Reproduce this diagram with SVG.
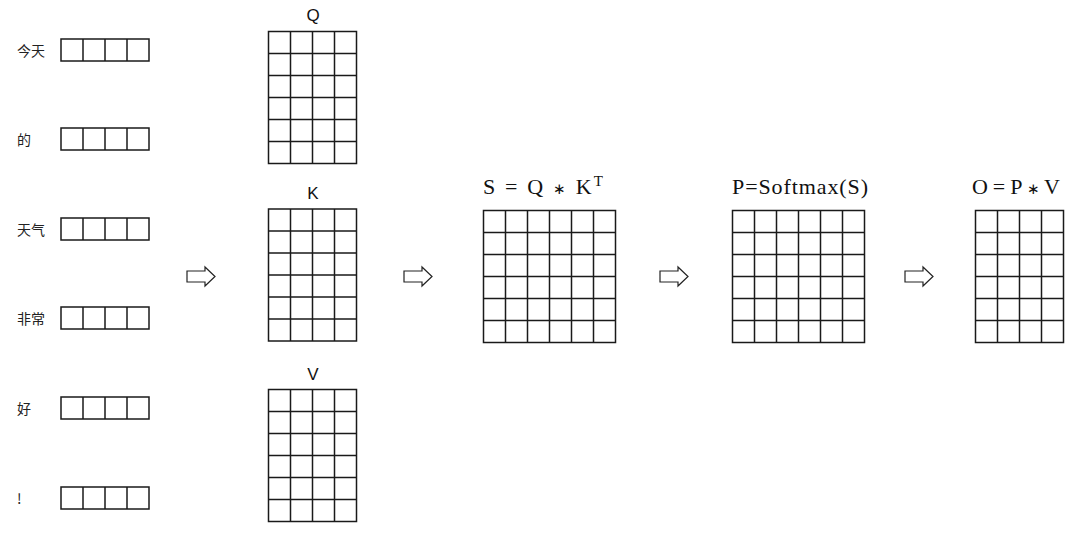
<svg xmlns="http://www.w3.org/2000/svg" width="1085" height="546" viewBox="0 0 1085 546">
<style>
.g{fill:none;stroke:#1a1a1a;stroke-width:1.5}
.tok{font-family:"Noto Sans CJK SC","Liberation Sans",sans-serif;font-size:14px;fill:#222}
.mh{font-family:"Liberation Sans",sans-serif;font-size:17px;fill:#111;text-anchor:middle}
.ml{font-family:"Liberation Serif",serif;font-size:22px;fill:#111}
.ast{font-size:15px}
.ar{fill:#fff;stroke:#222;stroke-width:1.2}
</style>
<defs>
<g id="vec"><rect class="g" x="0" y="0" width="88" height="22"/><path class="g" d="M22 0V22M44 0V22M66 0V22"/></g>
<g id="g46"><rect class="g" x="0" y="0" width="88" height="132"/><path class="g" d="M22 0V132M44 0V132M66 0V132M0 22H88M0 44H88M0 66H88M0 88H88M0 110H88"/></g>
<g id="g66"><rect class="g" x="0" y="0" width="132" height="132"/><path class="g" d="M22 0V132M44 0V132M66 0V132M88 0V132M110 0V132M0 22H132M0 44H132M0 66H132M0 88H132M0 110H132"/></g>
<polygon id="arr" class="ar" points="0,4 18,4 18,0 28,9.5 18,19 18,15 0,15"/>
</defs>
<g id="tokens">
<g id="t1"><text class="tok" x="17" y="56">今天</text><use href="#vec" x="61" y="39"/></g>
<g id="t2"><text class="tok" x="17" y="145">的</text><use href="#vec" x="61" y="128"/></g>
<g id="t3"><text class="tok" x="17" y="235">天气</text><use href="#vec" x="61" y="218"/></g>
<g id="t4"><text class="tok" x="17" y="324">非常</text><use href="#vec" x="61" y="307"/></g>
<g id="t5"><text class="tok" x="17" y="414">好</text><use href="#vec" x="61" y="397"/></g>
<g id="t6"><text class="tok" x="17" y="504" fill="#555">!</text><use href="#vec" x="61" y="487"/></g>
</g>
<g id="Q"><text class="mh" x="313" y="21">Q</text><use href="#g46" x="268.5" y="31.5"/></g>
<g id="K"><text class="mh" x="313" y="199">K</text><use href="#g46" x="268.5" y="209"/></g>
<g id="V"><text class="mh" x="313" y="380">V</text><use href="#g46" x="268.5" y="389.5"/></g>
<g id="S"><text class="ml" x="483" y="194" textLength="120" lengthAdjust="spacing">S = Q <tspan class="ast">∗</tspan> K<tspan font-size="15" dy="-8">T</tspan></text><use href="#g66" x="483.5" y="210.5"/></g>
<g id="P"><text class="ml" x="732" y="194" textLength="136" lengthAdjust="spacing">P=Softmax(S)</text><use href="#g66" x="732.5" y="210.5"/></g>
<g id="O"><text class="ml" x="972" y="194" textLength="88" lengthAdjust="spacing">O = P <tspan class="ast">∗</tspan> V</text><use href="#g46" x="975.5" y="210.5"/></g>
<g id="connectors">
<use href="#arr" x="187" y="267"/>
<use href="#arr" x="404" y="267"/>
<use href="#arr" x="660" y="267"/>
<use href="#arr" x="905" y="267"/>
</g>
</svg>
